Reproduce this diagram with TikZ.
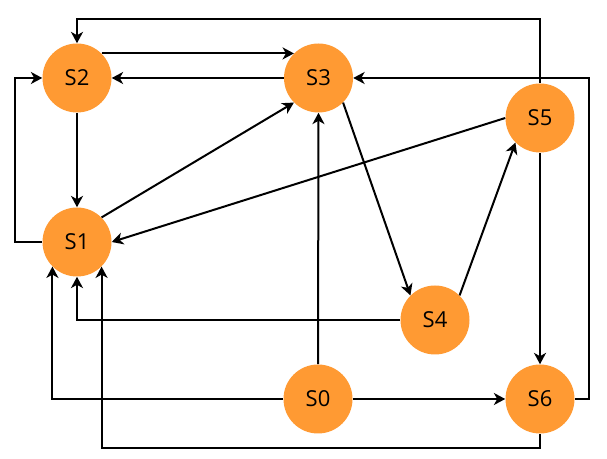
\documentclass[tikz,border=0pt]{standalone}
\usepackage{fontspec}
\setmainfont{Open Sans}
\usetikzlibrary{arrows.meta}
\definecolor{stateorange}{RGB}{255,154,51}
\begin{document}
\begin{tikzpicture}[x=0.75pt,y=-0.75pt,
  state/.style={circle,fill=stateorange,minimum size=51.75pt,inner sep=0pt,font=\fontsize{16.5}{19}\selectfont},
  edge/.style={line width=1.5pt,-{Stealth[length=8.5pt,width=9pt,inset=2.5pt]}}]
\useasboundingbox (0,0) rectangle (607,459);

\node[state] (S2) at (77,78) {S2};
\node[state] (S3) at (318.5,78) {S3};
\node[state] (S5) at (540,118) {S5};
\node[state] (S1) at (77,242) {S1};
\node[state] (S4) at (435,320) {S4};
\node[state] (S0) at (318,399) {S0};
\node[state] (S6) at (540,399) {S6};

\draw[edge] (S2.45) -- (S3.135);
\draw[edge] (S3.west) -- (S2.east);
\draw[edge] (S2.south) -- (S1.north);
\draw[edge] (S1.west) -- ++(-27,0) |- (S2.west);
\draw[edge] (S1.45) -- (S3.225);
\draw[edge] (S5.west) -- (S1.east);
\draw[edge] (S5.north) -- ++(0,-64) -| (S2.north);
\draw[edge] (S3.-45) -- (S4.135);
\draw[edge] (S4.45) -- (S5.225);
\draw[edge] (S4.west) -| (S1.south);
\draw[edge] (S0.north) -- (S3.south);
\draw[edge] (S0.west) -| (S1.225);
\draw[edge] (S0.east) -- (S6.west);
\draw[edge] (S5.south) -- (S6.north);
\draw[edge] (S6.east) -- ++(14,0) |- (S3.east);
\draw[edge] (S6.south) -- ++(0,14) -| (S1.-45);
\end{tikzpicture}
\end{document}
